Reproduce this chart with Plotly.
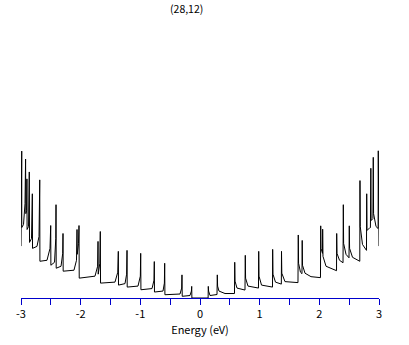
import plotly.graph_objects as go

title_text = "(28,12)"
x_title = "Energy (eV)"
tick_values = [-3, -2, -1, 0, 1, 2, 3]
tick_labels = ["-3", "-2", "-1", "0", "1", "2", "3"]
minor_tick_values = [-2.5, -1.5, -0.5, 0.5, 1.5, 2.5]

# Energy (eV)
energy = [
    -3.000, -3.000, -2.993, -2.988, -2.987, -2.958, -2.933, -2.923, -2.919, -2.906,
    -2.901, -2.898, -2.874, -2.861, -2.857, -2.824, -2.810, -2.807, -2.732, -2.698,
    -2.686, -2.683, -2.564, -2.514, -2.502, -2.499, -2.438, -2.417, -2.413, -2.410,
    -2.329, -2.301, -2.296, -2.293, -2.112, -2.070, -2.061, -2.058, -2.036, -2.028,
    -2.024, -1.760, -1.716, -1.709, -1.706, -1.679, -1.671, -1.667, -1.425, -1.378,
    -1.369, -1.366, -1.257, -1.230, -1.223, -1.220, -1.039, -1.000, -0.994, -0.990,
    -0.804, -0.771, -0.766, -0.763, -0.620, -0.597, -0.592, -0.588, -0.335, -0.307,
    -0.302, -0.298, -0.168, -0.144, -0.139, -0.136,
    0.136, 0.139, 0.144, 0.168, 0.285, 0.290, 0.295, 0.318, 0.419, 0.578,
    0.582, 0.587, 0.620, 0.754, 0.759, 0.764, 0.804, 0.980, 0.984, 0.989,
    1.031, 1.215, 1.218, 1.223, 1.265, 1.363, 1.366, 1.371, 1.424, 1.642,
    1.647, 1.652, 1.684, 1.709, 1.713, 1.718, 1.760, 1.860, 2.019, 2.023,
    2.028, 2.053, 2.056, 2.061, 2.112, 2.288, 2.291, 2.296, 2.338, 2.397,
    2.402, 2.407, 2.447, 2.497, 2.502, 2.507, 2.556, 2.678, 2.681, 2.686,
    2.723, 2.790, 2.794, 2.799, 2.849, 2.856, 2.863, 2.868, 2.898, 2.901,
    2.904, 2.909, 2.950, 2.985, 2.988, 2.993, 3.000, 3.000,
]

# Density of states (arbitrary units)
dos = [
    5.23, 10.0, 10.2, 14.8, 7.1, 7.4, 9.5, 14.0, 8.5, 8.8,
    12.0, 6.9, 7.2, 12.7, 5.6, 6.0, 10.5, 5.0, 5.2, 6.2,
    11.9, 3.7, 3.8, 5.0, 7.3, 3.3, 3.6, 6.0, 9.4, 3.0,
    3.2, 4.5, 6.5, 2.7, 2.8, 3.8, 6.9, 4.4, 5.5, 7.3,
    2.0, 2.2, 3.2, 5.7, 2.4, 3.5, 6.7, 1.5, 1.6, 2.6,
    4.7, 1.3, 1.45, 2.4, 4.8, 1.1, 1.2, 2.2, 4.5, 0.83,
    0.95, 1.8, 3.67, 0.6, 0.7, 1.5, 3.5, 0.33, 0.4, 1.0,
    2.33, 0.17, 0.25, 0.7, 1.17, 0.0,
    0.0, 1.17, 0.7, 0.25, 0.35, 2.33, 1.2, 0.7, 0.45, 0.45,
    3.6, 1.7, 1.0, 0.8, 4.3, 2.0, 1.2, 1.0, 4.7, 2.2,
    1.3, 1.1, 4.9, 2.4, 1.6, 1.4, 4.7, 2.5, 1.65, 1.55,
    6.35, 3.5, 2.6, 2.45, 5.8, 3.3, 2.5, 2.15, 2.05, 7.27,
    5.0, 4.5, 6.93, 4.2, 3.2, 2.75, 6.5, 4.5, 3.8, 3.55,
    9.4, 5.5, 4.4, 4.05, 7.27, 5.0, 4.1, 3.7, 11.83, 7.2,
    5.4, 4.8, 10.5, 6.8, 7.1, 7.1, 13.07, 7.8, 8.0, 11.5,
    14.17, 8.5, 7.2, 7.0, 14.83, 10.2, 10.0, 5.23,
]

axis_blue = "#0000CC"
font_family = "Noto Sans CJK JP, DejaVu Sans, sans-serif"

fig = go.Figure()
fig.add_trace(go.Scatter(
    x=energy, y=dos, mode="lines",
    line=dict(color="black", width=1),
    hoverinfo="skip", showlegend=False,
))

fig.update_layout(
    width=409, height=345,
    margin=dict(l=21, r=30, t=30, b=45),
    paper_bgcolor="white", plot_bgcolor="white",
    font=dict(family=font_family, size=11, color="black"),
    xaxis=dict(
        range=[-3, 3],
        showgrid=False, zeroline=False,
        showline=True, linecolor=axis_blue, linewidth=1,
        ticks="outside", ticklen=6, tickwidth=1, tickcolor=axis_blue,
        tickmode="array", tickvals=tick_values, ticktext=tick_labels,
        tickfont=dict(size=11, color="black"),
        minor=dict(tickmode="array", tickvals=minor_tick_values, ticks="outside",
                   ticklen=6, tickwidth=1, tickcolor=axis_blue, showgrid=False),
        title=dict(text=x_title, font=dict(size=11, color="black"), standoff=4),
    ),
    yaxis=dict(
        range=[0, 27], visible=False, showgrid=False, zeroline=False,
    ),
    annotations=[dict(
        text=title_text, x=0.461, y=1.081, xref="paper", yref="paper",
        xanchor="center", yanchor="middle", showarrow=False,
        font=dict(size=10.5, color="black"),
    )],
)

fig.write_html(
    "out.html",
    config={"displayModeBar": False},
    post_script="document.body.style.margin='0';document.body.style.overflow='hidden';",
)
